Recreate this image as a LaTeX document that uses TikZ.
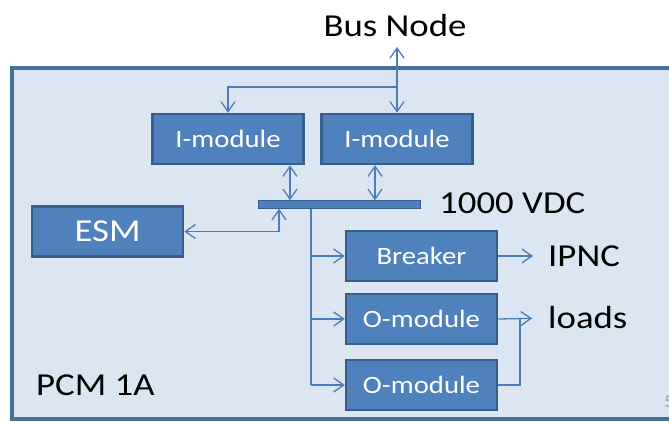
\documentclass[tikz,border=0pt]{standalone}
\usepackage{fontspec}
\setmainfont{Carlito}[FakeStretch=1.15]
\usetikzlibrary{arrows.meta}
\definecolor{framefill}{HTML}{DCE6F2}
\definecolor{frameline}{HTML}{41719C}
\definecolor{boxfill}{HTML}{4F81BD}
\definecolor{boxline}{HTML}{385D8A}
\definecolor{wire}{HTML}{4A7EBB}
\tikzset{
  modbox/.style={draw=boxline, line width=2.5pt, fill=boxfill, text=white, minimum width=151pt, minimum height=50pt, inner sep=0pt, font=\fontsize{25}{30}\selectfont},
  lbl/.style={inner sep=0pt, font=\fontsize{32}{38}\selectfont, text=black},
  wireline/.style={draw=wire, line width=1.3pt},
  tip/.style={},
  arr/.style={wireline, -{Straight Barb[length=10pt,width=14pt]}},
  darr/.style={wireline, {Straight Barb[length=10pt,width=14pt]}-{Straight Barb[length=10pt,width=14pt]}},
}
\begin{document}
\begin{tikzpicture}[x=1pt,y=-1pt]
\useasboundingbox (0,0) rectangle (669,422);
\clip (0,0) rectangle (669,422);
\fill[white] (0,0) rectangle (669,422);
% frame
\draw[draw=frameline, fill=framefill, line width=3.5pt] (12,68) rectangle (720,419);
% labels
\node[lbl] (bus) at (395,26) {Bus Node};
\node[lbl, anchor=west] (vdc) at (439,203) {1000 VDC};
\node[lbl, anchor=west] (ipnc) at (548,256) {IPNC};
\node[lbl, anchor=west] (loads) at (548,318) {loads};
\node[lbl, anchor=west] (pcm) at (36,385) {PCM 1A};
\node[inner sep=0pt, anchor=west, text=gray!70, font=\fontsize{18}{20}\selectfont] (num) at (664,402) {5};
% boxes
\node[modbox] (im1) at (228,139) {I-module};
\node[modbox] (im2) at (397,139) {I-module};
\node[modbox, font=\fontsize{32}{38}\selectfont] (esm) at (107.5,231.5) {ESM};
\node[modbox] (brk) at (421.5,256) {Breaker};
\node[modbox] (o1) at (421.5,319) {O-module};
\node[modbox] (o2) at (421.5,385) {O-module};
% bus bar
\node[fill=boxfill, draw=boxline, line width=0.5pt, minimum width=162pt, minimum height=8pt, inner sep=0pt] (bar) at (339,204.5) {};
% coordinates
\coordinate (bt) at (397,47);
\coordinate (jn) at (397,87);
\coordinate (jl) at (228,87);
\coordinate (c1) at (290,0);
\coordinate (c2) at (375,0);
\coordinate (ce) at (279,0);
\coordinate (cf) at (311,0);
\coordinate (mj) at (520,319);
% Bus node connections
\draw[arr] (jn) -- (bt);
\draw[arr] (jn) -- (im2.north);
\draw[arr] (jn) -- (jl) -- (im1.north);
% I-modules to bar
\draw[darr] (im1.south -| c1) -- (bar.north -| c1);
\draw[darr] (im2.south -| c2) -- (bar.north -| c2);
% ESM
\draw[darr] (esm.east) -| (bar.south -| ce);
% feeders
\draw[wireline] (bar.south -| cf) -- (o2.west -| cf);
\draw[arr] (brk.west -| cf) -- (brk.west);
\draw[arr] (o1.west -| cf) -- (o1.west);
\draw[arr] (o2.west -| cf) -- (o2.west);
% outputs
\draw[arr, shorten >=15pt] (brk.east) -- (ipnc.west);
\draw[arr, shorten >=16pt] (o1.east) -- (loads.west);
\draw[wireline] (o2.east) -| (mj);
\end{tikzpicture}
\end{document}
